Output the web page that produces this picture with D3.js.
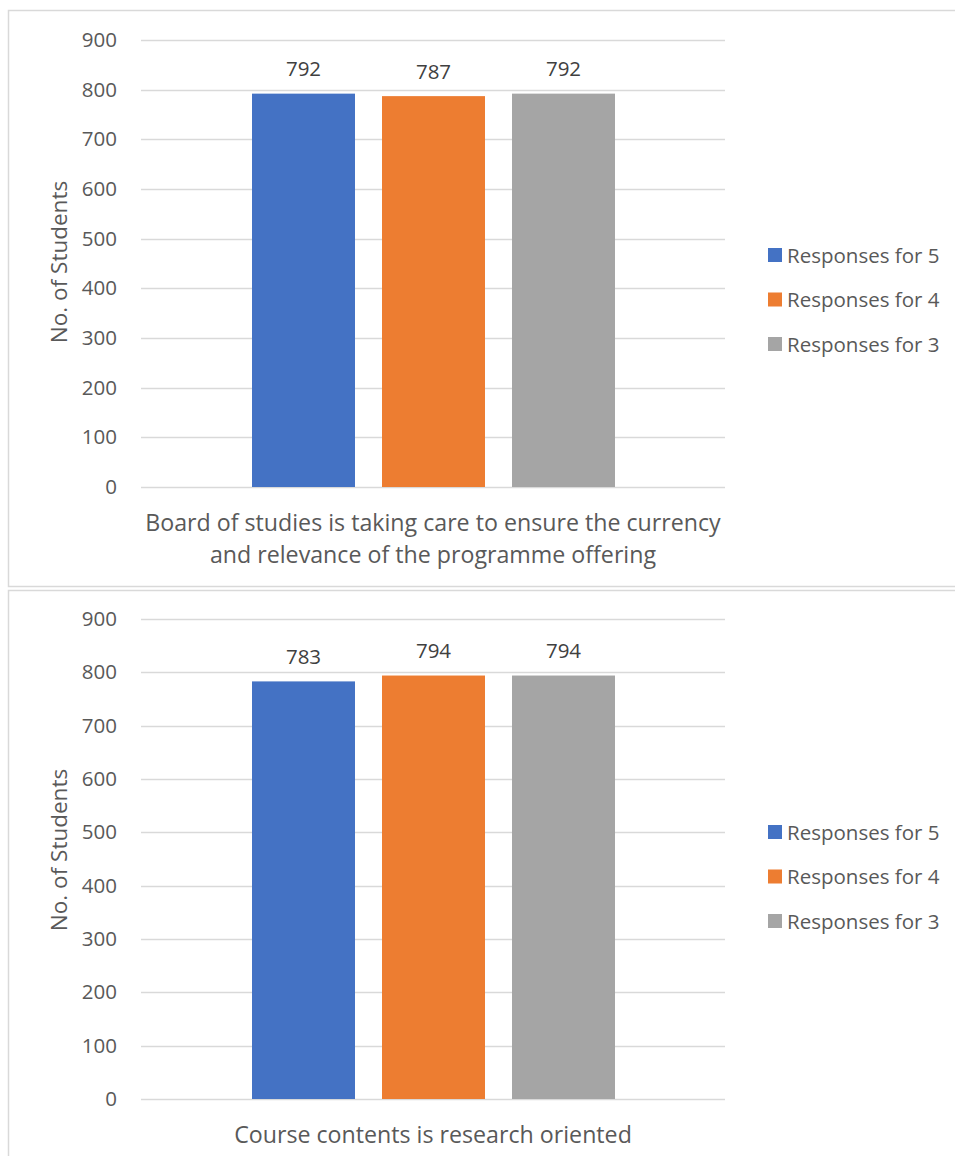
<!DOCTYPE html>
<html><head><meta charset="utf-8">
<script src="https://cdn.jsdelivr.net/npm/d3@7"></script>
<style>body{margin:0;background:#fff;}svg{display:block;font-family:"Open Sans",sans-serif;}</style>
</head><body><svg id="c" width="955" height="1156"></svg>
<script>
const seriesNames = ["Responses for 5", "Responses for 4", "Responses for 3"];
const seriesColors = ["#4472C4", "#ED7D31", "#A5A5A5"];
const chart1Category = ["Board of studies is taking care to ensure the currency", "and relevance of the programme offering"];
const chart1Values = [792, 787, 792];
const chart2Category = ["Course contents is research oriented"];
const chart2Values = [783, 794, 794];
const yTicks = [0, 100, 200, 300, 400, 500, 600, 700, 800, 900];
const yTitle = "No. of Students";

const svg = d3.select("#c");
const txt = "#595959";

function drawChart(cfg) {
  const g = svg.append("g");
  g.append("rect").attr("x", 8.5).attr("y", cfg.boxTop + 0.5).attr("width", 960).attr("height", cfg.boxH)
    .attr("fill", "#fff").attr("stroke", "#D9D9D9").attr("stroke-width", 1.5);
  const y = d3.scaleLinear().domain([0, 900]).range([cfg.y0, cfg.y900]);
  const x = d3.scaleBand().domain([0]).range([141, 725]);
  const xs = d3.scaleBand().domain(seriesNames).range([252, 615]).paddingInner(27/130).paddingOuter(0);
  g.selectAll(".grid").data(yTicks).join("line")
    .attr("x1", x.range()[0]).attr("x2", x.range()[1])
    .attr("y1", d => Math.round(y(d)) + 0.5).attr("y2", d => Math.round(y(d)) + 0.5)
    .attr("stroke", "#D9D9D9").attr("stroke-width", 1.3);
  const ax = d3.axisLeft(y).tickValues(yTicks).tickSize(0).tickPadding(0);
  const axg = g.append("g").attr("transform", "translate(117,0)").call(ax);
  axg.select(".domain").remove();
  axg.selectAll("text").attr("fill", txt).style("font-size", "20.5px").style("font-family", "'Open Sans',sans-serif");
  g.selectAll(".bar").data(cfg.values).join("rect")
    .attr("x", (d, i) => xs(seriesNames[i])).attr("width", xs.bandwidth())
    .attr("y", d => y(d)).attr("height", d => y(0) - y(d))
    .attr("fill", (d, i) => seriesColors[i]);
  g.selectAll(".val").data(cfg.values).join("text")
    .attr("x", (d, i) => xs(seriesNames[i]) + xs.bandwidth() / 2)
    .attr("y", d => y(d) - 17.5)
    .attr("text-anchor", "middle").attr("fill", "#404040").style("font-size", "20.5px").text(d => d);
  g.append("text").attr("transform", `translate(67,${cfg.titleY}) rotate(-90)`)
    .attr("text-anchor", "middle").attr("fill", txt).style("font-size", "22.5px").text(yTitle);
  g.selectAll(".cat").data(cfg.category).join("text")
    .attr("x", 433).attr("y", (d, i) => cfg.catY + i * 32)
    .attr("text-anchor", "middle").attr("fill", txt).style("font-size", "23.2px").text(d => d);
  const lg = g.selectAll(".lg").data(seriesNames).join("g")
    .attr("transform", (d, i) => `translate(768,${cfg.legY + i * 44.5})`);
  lg.append("rect").attr("x", 0).attr("y", -7).attr("width", 14).attr("height", 14).attr("fill", (d, i) => seriesColors[i]);
  lg.append("text").attr("x", 19).attr("y", 7.5).attr("fill", txt).style("font-size", "20.5px").text(d => d);
}

drawChart({boxTop: 10, boxH: 576, y0: 487, y900: 40, values: chart1Values, category: chart1Category, catY: 531, legY: 255, titleY: 262});
drawChart({boxTop: 590, boxH: 600, y0: 1099, y900: 619, values: chart2Values, category: chart2Category, catY: 1143, legY: 832, titleY: 850});
</script></body></html>
